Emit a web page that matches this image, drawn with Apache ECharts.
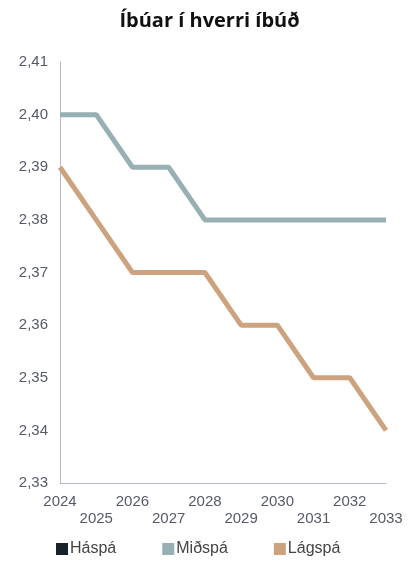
<!DOCTYPE html>
<html><head><meta charset="utf-8">
<script src="https://cdn.jsdelivr.net/npm/echarts@6/dist/echarts.min.js"></script>
<style>html,body{margin:0;padding:0;background:#fff}#c{width:419px;height:569px}</style>
</head><body><div id="c"></div>
<script>
const years = ['2024','2025','2026','2027','2028','2029','2030','2031','2032','2033'];
const haspa = [null,null,null,null,null,null,null,null,null,null];
const midspa = [2.40,2.40,2.39,2.39,2.38,2.38,2.38,2.38,2.38,2.38];
const lagspa = [2.39,2.38,2.37,2.37,2.37,2.36,2.36,2.35,2.35,2.34];
const seriesNames = ['Háspá','Miðspá','Lágspá'];
const colors = ['#17222b','#97b0b4','#cca27f'];

const chart = echarts.init(document.getElementById('c'));
chart.setOption({
  animation:false,
  title:{text:'Íbúar í hverri íbúð',left:'center',top:6,
    textStyle:{fontFamily:'Open Sans',fontWeight:'bold',fontSize:20,color:'#111'}},
  color:colors,
  grid:{left:60,right:33,top:62,bottom:86},
  legend:{bottom:7,left:51,icon:'rect',itemWidth:12,itemHeight:12,itemGap:46,
    textStyle:{fontFamily:'Liberation Sans',fontSize:16,color:'#444',padding:[0,0,0,-3]},
    data:seriesNames},
  xAxis:{type:'category',data:years,boundaryGap:false,
    axisLine:{lineStyle:{color:'#b5b9c8'}},axisTick:{show:false},
    axisLabel:{interval:0,fontFamily:'Liberation Sans',fontSize:15,color:'#555a66',margin:10,lineHeight:17,
      formatter:(v,i)=> i%2===1 ? '\n'+v : v}},
  yAxis:{type:'value',min:2.33,max:2.41,interval:0.01,
    axisLine:{show:true,lineStyle:{color:'#b5b9c8'}},axisTick:{show:false},splitLine:{show:false},
    axisLabel:{fontFamily:'Liberation Sans',fontSize:15,color:'#555a66',margin:12,
      formatter:v=>v.toFixed(2).replace('.',',')}},
  series:[
    {name:seriesNames[0],type:'line',data:haspa,symbol:'none',lineStyle:{width:5}},
    {name:seriesNames[1],type:'line',data:midspa,symbol:'none',lineStyle:{width:5}},
    {name:seriesNames[2],type:'line',data:lagspa,symbol:'none',lineStyle:{width:5}}
  ]
});
</script></body></html>
